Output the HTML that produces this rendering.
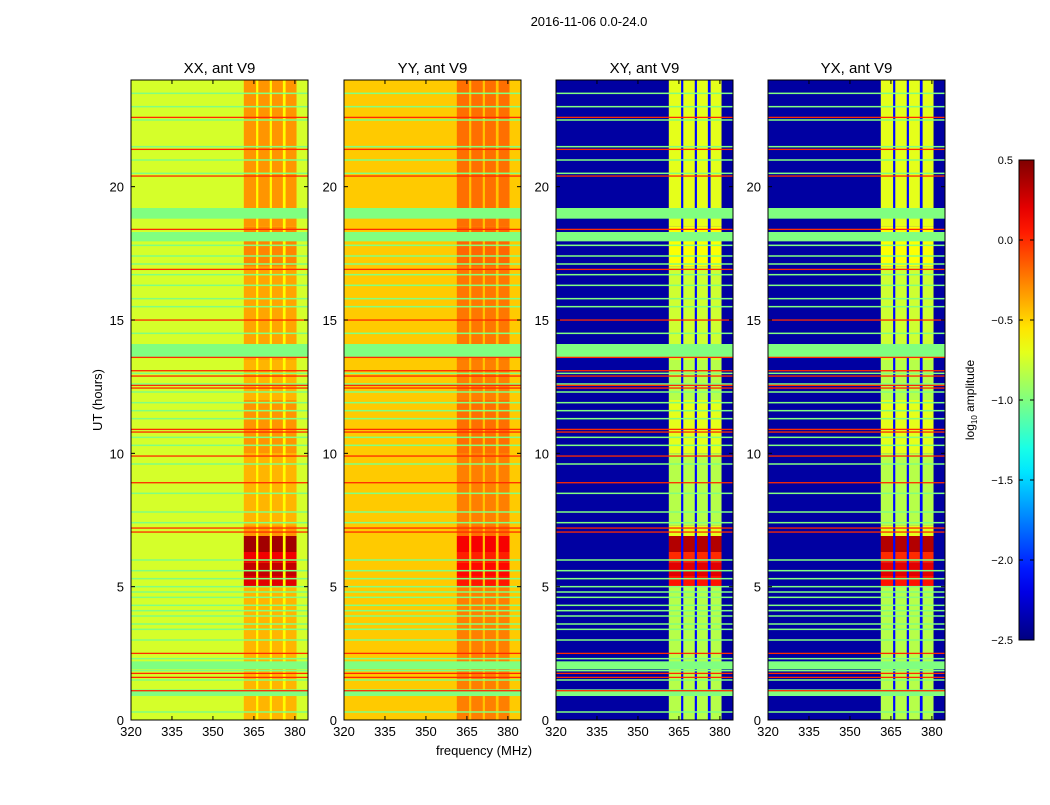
<!DOCTYPE html>
<html><head><meta charset="utf-8">
<style>
body{margin:0;background:#fff;}
svg text{font-family:"Liberation Sans","DejaVu Sans",sans-serif;fill:#000;}
</style></head>
<body>
<svg id="fig" width="1050" height="800" xmlns="http://www.w3.org/2000/svg">
<rect width="1050" height="800" fill="#fff"/>
<text x="589" y="26" font-size="13" text-anchor="middle">2016-11-06 0.0-24.0</text>
<text transform="translate(102,400) rotate(-90)" font-size="13" text-anchor="middle">UT (hours)</text>
<text x="484" y="755" font-size="13" text-anchor="middle">frequency (MHz)</text>
<g id="panels"></g>
<g id="cbar"></g>
</svg>
<script>
// ---- data ----
const panelNames = ["XX, ant V9","YY, ant V9","XY, ant V9","YX, ant V9"];
const panelX = [131,344,556,768];
const baseLevel = [-0.75,-0.47,-2.4,-2.4];
const gapLevel = [-0.62,-0.45,-2.1,-2.1];
const bandLow = [-0.55,-0.32,-1.05,-1.05];
const bandPeak = [0.4,0.15,0.35,0.35];
const bandStart = [361.3,366.6,371.6,376.6];
const bandEnd = [365.8,370.8,375.6,380.6];
const segEdges = [0,5,5.4,5.9,6.3,6.9,7.3,10,12,13.5,17,18.5,24];
const segBoost = [0.15,0.8,0.9,0.75,1.0,0.25,0.15,0.25,0.15,0.2,0.3,0.25];
const flagBands = [[0.9,1.15],[1.9,2.2],[13.6,14.1],[17.95,18.3],[18.8,19.2]];
const greenLines = [0.3,1.5,1.85,2.3,3.0,3.4,3.6,3.9,4.1,4.3,4.6,4.8,5.0,5.3,5.6,6.0,7.4,7.8,8.5,9.6,10.3,10.6,11.3,11.6,11.9,12.3,12.6,13.0,14.5,15.5,15.8,16.3,16.7,17.1,17.4,17.8,20.5,21.0,21.5,22.5,23.0,23.5];
const redLines = [1.1,1.6,1.75,2.5,7.05,7.2,8.9,9.9,10.8,10.9,12.45,12.55,12.9,13.1,13.6,15.0,16.9,18.4,20.4,21.4,22.6];
const xTicks = [320,335,350,365,380];
const yTicks = [0,5,10,15,20];
const cbTicks = [0.5,0.0,-0.5,-1.0,-1.5,-2.0,-2.5];
// ---- scales ----
const W=177, TOP=80, BOT=720, F0=320, F1=384.8, T0=0, T1=24, VMIN=-2.5, VMAX=0.5;
const fx=(f,x0)=>x0+(f-F0)/(F1-F0)*W;
const ty=t=>BOT-(t-T0)/(T1-T0)*(BOT-TOP);
function jet(v){let t=Math.max(0,Math.min(1,(v-VMIN)/(VMAX-VMIN)));
 const c=x=>Math.round(255*Math.max(0,Math.min(1,x)));
 return `rgb(${c(1.5-Math.abs(4*t-3))},${c(1.5-Math.abs(4*t-2))},${c(1.5-Math.abs(4*t-1))})`;}
const NS="http://www.w3.org/2000/svg";
function mk(tag,attrs,parent){const e=document.createElementNS(NS,tag);for(const k in attrs)e.setAttribute(k,attrs[k]);parent.appendChild(e);return e;}
const panels=document.getElementById('panels');
panelNames.forEach((name,p)=>{
 const x0=panelX[p];
 const g=mk('g',{},panels);
 
 
 const bg=mk('rect',{x:x0,y:TOP,width:W,height:BOT-TOP,fill:jet(baseLevel[p])},g);
 
 
 const gapR=mk('rect',{x:fx(bandStart[0],x0),y:TOP,width:fx(bandEnd[3],x0)-fx(bandStart[0],x0),height:BOT-TOP,fill:jet(gapLevel[p])},g);
 
 
 for(let s=0;s<segBoost.length;s++){
  for(let b=0;b<bandStart.length;b++){
   const v=bandLow[p]+(bandPeak[p]-bandLow[p])*segBoost[s];
   const r=mk('rect',{x:fx(bandStart[b],x0),y:ty(segEdges[s+1]),width:fx(bandEnd[b],x0)-fx(bandStart[b],x0),height:ty(segEdges[s])-ty(segEdges[s+1]),fill:jet(v)},g);
   
   
  }
 }
 flagBands.forEach(fb=>{
  const r=mk('rect',{x:x0,y:ty(fb[1]),width:W,height:ty(fb[0])-ty(fb[1]),fill:jet(-1.0)},g);
  
  
 });
 greenLines.forEach(h=>{
  const r=mk('rect',{x:x0,y:ty(h)-0.75,width:W,height:1.5,fill:jet(-1.0)},g);
  
  
 });
 redLines.forEach(h=>{
  const r=mk('rect',{x:x0,y:ty(h)-0.6,width:W,height:1.3,fill:jet(0.0)},g);
  
  
 });
 const fr=mk('rect',{x:x0,y:TOP,width:W,height:BOT-TOP,fill:'none',stroke:'#000','stroke-width':1},g);
 
 
 const tt=mk('text',{x:x0+W/2,y:73,'font-size':15,'text-anchor':'middle'},g);tt.textContent=name;
 
 
 xTicks.forEach(f=>{const X=fx(f,x0);
  mk('line',{x1:X,x2:X,y1:BOT,y2:BOT-4,stroke:'#000'},g);
  mk('line',{x1:X,x2:X,y1:TOP,y2:TOP+4,stroke:'#000'},g);
  const t=mk('text',{x:X,y:BOT+16,'font-size':13,'text-anchor':'middle'},g);t.textContent=f;
  
  
 });
 yTicks.forEach(h=>{const Y=ty(h);
  mk('line',{x1:x0,x2:x0+4,y1:Y,y2:Y,stroke:'#000'},g);
  mk('line',{x1:x0+W,x2:x0+W-4,y1:Y,y2:Y,stroke:'#000'},g);
  const t=mk('text',{x:x0-7,y:Y+5,'font-size':13,'text-anchor':'end'},g);t.textContent=h;
  
  
 });
});
// colorbar
const cb=document.getElementById('cbar');
const CX=1019,CW=15,CT=160,CB=640;
const grad=mk('linearGradient',{id:'jetg',x1:0,y1:1,x2:0,y2:0},mk('defs',{},cb));
for(let i=0;i<=20;i++){mk('stop',{offset:i/20,'stop-color':jet(VMIN+(VMAX-VMIN)*i/20)},grad);}
const cr=mk('rect',{x:CX,y:CT,width:CW,height:CB-CT,fill:'url(#jetg)',stroke:'#000','stroke-width':1},cb);


const cyv=v=>CB-(v-VMIN)/(VMAX-VMIN)*(CB-CT);
cbTicks.forEach(v=>{const Y=cyv(v);
 mk('line',{x1:CX,x2:CX+4,y1:Y,y2:Y,stroke:'#000'},cb);
 mk('line',{x1:CX+CW,x2:CX+CW-4,y1:Y,y2:Y,stroke:'#000'},cb);
 const t=mk('text',{x:CX-6,y:Y+4,'font-size':11,'text-anchor':'end'},cb);
 t.textContent=v.toFixed(1).replace('-','\u2212');
 
 
});
const cl=mk('text',{transform:'translate(974,400) rotate(-90)','font-size':12,'text-anchor':'middle'},cb);
cl.innerHTML='log<tspan font-size="8" dy="3">10</tspan><tspan dy="-3"> amplitude</tspan>';


</script>
</body></html>
